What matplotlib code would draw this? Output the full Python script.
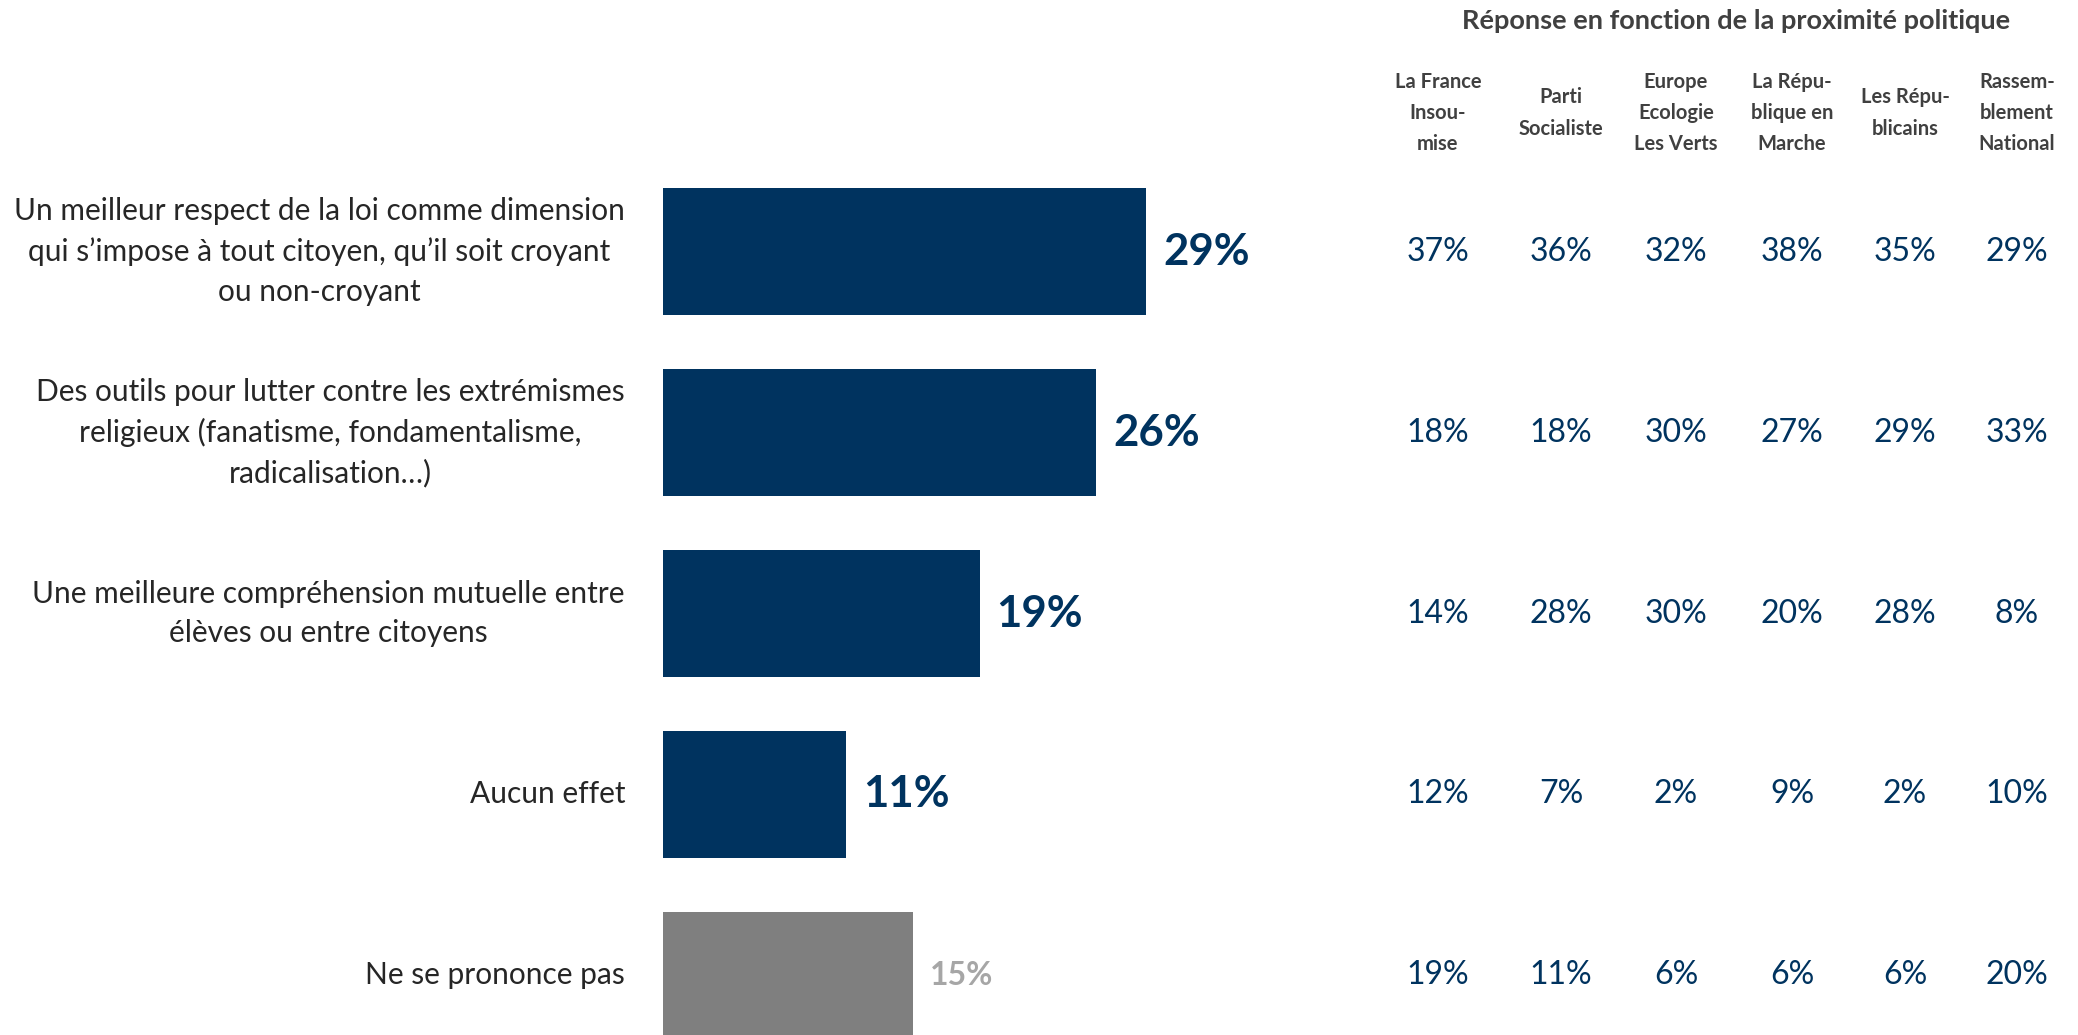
import matplotlib.pyplot as plt
import matplotlib.transforms as mtransforms

categories = [
    "Un meilleur respect de la loi comme dimension\nqui s\u2019impose \u00e0 tout citoyen, qu\u2019il soit croyant\nou non-croyant",
    "Des outils pour lutter contre les extr\u00e9mismes\nreligieux (fanatisme, fondamentalisme,\nradicalisation\u2026)",
    "Une meilleure compr\u00e9hension mutuelle entre\n\u00e9l\u00e8ves ou entre citoyens",
    "Aucun effet",
    "Ne se prononce pas",
]
totals = [29, 26, 19, 11, 15]

parties = ["La France\nInsou-\nmise", "Parti\nSocialiste", "Europe\nEcologie\nLes Verts",
           "La R\u00e9pu-\nblique en\nMarche", "Les R\u00e9pu-\nblicains", "Rassem-\nblement\nNational"]
lfi = [37, 18, 14, 12, 19]
ps = [36, 18, 28, 7, 11]
eelv = [32, 30, 30, 2, 6]
lrem = [38, 27, 20, 9, 6]
lr = [35, 29, 28, 2, 6]
rn = [29, 33, 8, 10, 20]
by_party = [lfi, ps, eelv, lrem, lr, rn]

navy = '#00335F'
grey = '#7F7F7F'
text_grey = '#404040'
font = ['Lato', 'DejaVu Sans']
plt.rcParams['font.family'] = font

W, H = 2078, 1035
fig = plt.figure(figsize=(W / 100, H / 100), dpi=100)
ax = fig.add_axes([663 / W, 0, 1000 / W, 1])
ax.set_xlim(0, 60)
ax.set_ylim(4.329, -1.39)
ax.axis('off')

colors = [navy] * 4 + [grey]
ypos = list(range(len(categories)))
ax.barh(ypos, totals, height=0.70, color=colors)

trans = mtransforms.blended_transform_factory(fig.transFigure, ax.transData)

for i, (cat, v) in enumerate(zip(categories, totals)):
    ax.text(625 / W, i, cat, transform=trans, ha='right', va='center', ma='center',
            fontsize=21.5, color='#262626', linespacing=1.5)
    if i < 4:
        ax.text(v + 1.0, i, f"{v}%", ha='left', va='center', fontsize=31.5,
                fontweight='bold', color=navy)
    else:
        ax.text(v + 1.0, i, f"{v}%", ha='left', va='center', fontsize=23,
                fontweight='bold', color='#A6A6A6')

col_x = [1438, 1561, 1676, 1792, 1905, 2017]
fig.text(1736 / W, 1 - 21 / H, "R\u00e9ponse en fonction de la proximit\u00e9 politique",
         ha='center', va='center', fontsize=19.5, fontweight='bold', color=text_grey)
for cx, name, vals in zip(col_x, parties, by_party):
    fig.text(cx / W, 1 - 113 / H, name, ha='center', va='center', ma='center',
             fontsize=14.5, fontweight='bold', color=text_grey, linespacing=1.7)
    for i, v in enumerate(vals):
        ax.text(cx / W, i, f"{v}%", transform=trans, ha='center', va='center',
                fontsize=23, color=navy)

fig.savefig('out.png', dpi=100)
